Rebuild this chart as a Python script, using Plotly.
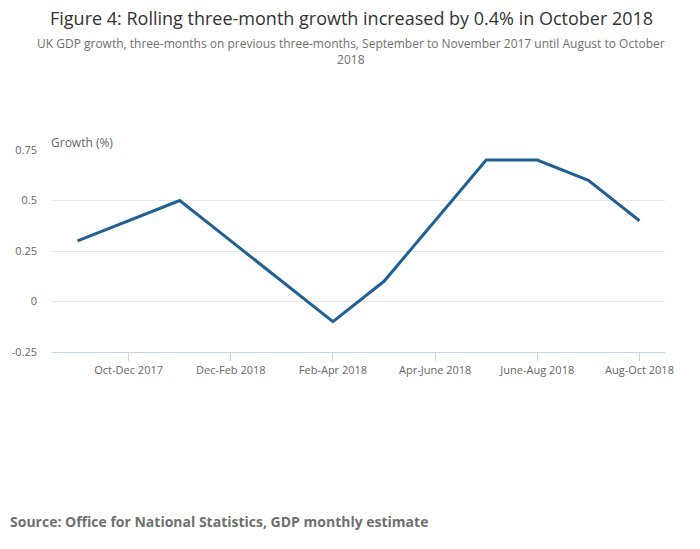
import plotly.graph_objects as go

categories = ["Sep-Nov 2017", "Oct-Dec 2017", "Nov-Jan 2018", "Dec-Feb 2018",
              "Jan-Mar 2018", "Feb-Apr 2018", "Mar-May 2018", "Apr-June 2018",
              "May-Jul 2018", "June-Aug 2018", "Jul-Sep 2018", "Aug-Oct 2018"]
growth = [0.3, 0.4, 0.5, 0.3, 0.1, -0.1, 0.1, 0.4, 0.7, 0.7, 0.6, 0.4]
tick_labels = ["Oct-Dec 2017", "Dec-Feb 2018", "Feb-Apr 2018",
               "Apr-June 2018", "June-Aug 2018", "Aug-Oct 2018"]
y_ticks = [-0.25, 0, 0.25, 0.5, 0.75]
y_tick_text = ["-0.25", "0", "0.25", "0.5", "0.75"]

FONT = "Open Sans"
W, H = 700, 549
ML, MR, MT, MB = 50, 35, 150, 197
pw = W - ML - MR
ph = H - MT - MB


def px_x(x):
    return (x - ML) / pw


def px_y(y):
    return (H - MB - y) / ph


fig = go.Figure(go.Scatter(
    x=categories, y=growth, mode="lines",
    line=dict(color="#206095", width=3),
    hoverinfo="x+y",
))

fig.update_layout(
    width=W, height=H,
    margin=dict(l=ML, r=MR, t=MT, b=MB),
    paper_bgcolor="white", plot_bgcolor="white",
    font=dict(family=FONT, color="#666666", size=11),
    showlegend=False,
    xaxis=dict(
        type="category", categoryorder="array", categoryarray=categories,
        range=[-0.5, 11.5],
        tickmode="array", tickvals=tick_labels, ticktext=tick_labels,
        ticks="outside", ticklen=8, tickcolor="#c0d4ea", tickwidth=1,
        showline=True, linecolor="#c0d4ea", linewidth=1,
        showgrid=False, zeroline=False,
        tickfont=dict(family=FONT, size=11, color="#666666"),
    ),
    yaxis=dict(
        range=[-0.25, 0.75],
        tickmode="array", tickvals=y_ticks, ticktext=y_tick_text,
        showgrid=True, gridcolor="#e6e6e6", gridwidth=1,
        zeroline=False, showline=False, ticks="",
        ticklabelstandoff=14,
        tickfont=dict(family=FONT, size=11, color="#666666"),
    ),
    annotations=[
        dict(text="Figure 4: Rolling three-month growth increased by 0.4% in October 2018",
             xref="paper", yref="paper", x=px_x(350), y=px_y(18),
             xanchor="center", yanchor="middle", showarrow=False,
             font=dict(family=FONT, size=18, color="#333333")),
        dict(text="UK GDP growth, three-months on previous three-months, September to November 2017 until August to October<br>2018",
             xref="paper", yref="paper", x=px_x(350), y=px_y(51),
             xanchor="center", yanchor="middle", showarrow=False, align="center",
             font=dict(family=FONT, size=12, color="#707070")),
        dict(text="Growth (%)", xref="paper", yref="paper", x=px_x(47), y=px_y(142),
             xanchor="left", yanchor="middle", showarrow=False,
             font=dict(family=FONT, size=12, color="#666666")),
        dict(text="<b>Source: Office for National Statistics, GDP monthly estimate</b>",
             xref="paper", yref="paper", x=px_x(6), y=px_y(521),
             xanchor="left", yanchor="middle", showarrow=False,
             font=dict(family=FONT, size=14, color="#707070")),
    ],
)

fig.write_html("out.html", config={"displayModeBar": False},
               post_script="document.body.style.margin='0';document.body.style.overflow='hidden';")
